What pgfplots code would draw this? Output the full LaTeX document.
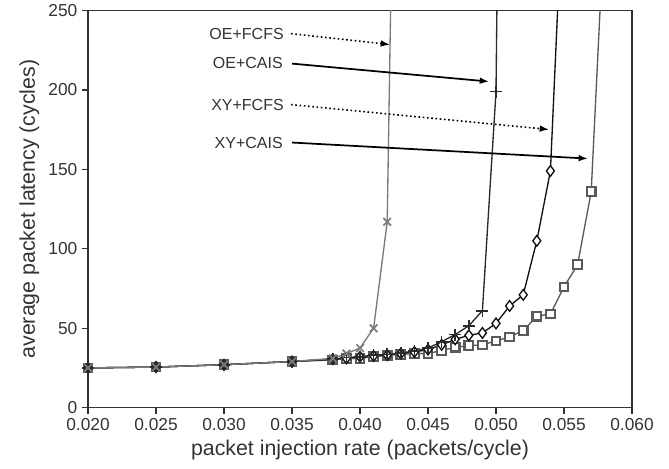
\documentclass[border=0pt]{standalone}
\usepackage{pgfplots}
\pgfplotsset{compat=1.18}
\usepackage{pgfplotstable}
\usepackage{fontspec}
\setmainfont{Liberation Sans}
\usetikzlibrary{arrows.meta}

\definecolor{axgray}{HTML}{333333}
\definecolor{oefcfs}{HTML}{7A7A7A}
\definecolor{oecais}{HTML}{2A2A2A}
\definecolor{xyfcfs}{HTML}{111111}
\definecolor{xycais}{HTML}{5A5A5A}

% OE + FCFS
\pgfplotstableread{
x y
0.020 25
0.025 25.5
0.030 27
0.035 29
0.038 31
0.039 34
0.040 37.5
0.041 50
0.042 117
0.043 650
}\oefcfsdata

% OE + CAIS
\pgfplotstableread{
x y
0.020 25
0.025 25.5
0.030 27
0.035 29
0.038 30.5
0.039 31.5
0.040 32
0.041 33
0.042 33.5
0.043 34.5
0.044 35.5
0.045 37.5
0.046 41.5
0.047 46
0.048 51.5
0.049 61
0.050 199
0.051 1000
}\oecaisdata

% XY + FCFS
\pgfplotstableread{
x y
0.020 25
0.025 25.5
0.030 27
0.035 29
0.038 30.5
0.039 31
0.040 32
0.041 32.5
0.042 33
0.043 34
0.044 35
0.045 36.5
0.046 39.5
0.047 43
0.048 45.5
0.049 47
0.050 53
0.051 64
0.052 71
0.053 105
0.054 149
0.055 340
}\xyfcfsdata

% XY + CAIS
\pgfplotstableread{
x y
0.020 25
0.025 25.5
0.030 27
0.035 29
0.038 30
0.039 31
0.040 31
0.041 32
0.042 33
0.043 33.5
0.044 34
0.045 34
0.046 36
0.047 38
0.048 39
0.049 39.5
0.050 42
0.051 44.5
0.052 48.5
0.053 57.5
0.054 59
0.055 76
0.056 90
0.057 136
0.058 312
}\xycaisdata

\begin{document}
\begin{tikzpicture}
\begin{axis}[
    scale only axis,
    width=408pt, height=297.75pt,
    xmin=0.020, xmax=0.060,
    ymin=0, ymax=250,
    xtick={0.020,0.025,0.030,0.035,0.040,0.045,0.050,0.055,0.060},
    ytick={0,50,100,150,200,250},
    scaled x ticks=false,
    xticklabel style={/pgf/number format/.cd, fixed, fixed zerofill, precision=3},
    /pgf/number format/assume math mode=true,
    ticklabel style={font=\fontsize{13}{15}\selectfont, text=axgray},
    label style={font=\fontsize{16}{19}\selectfont, text=axgray},
    xlabel={packet injection rate (packets/cycle)},
    ylabel={average packet latency (cycles)},
    axis line style={axgray, line width=1pt},
    tick style={axgray, line width=0.9pt},
    tick align=outside,
    tick pos=left,
    major tick length=4.5pt,
    every axis plot/.append style={line width=1pt},
]

\addplot[color=xycais, mark=square*, mark size=3.2pt,
    mark options={fill=white, line width=1.6pt}]
    table {\xycaisdata};
\addplot[color=xyfcfs, mark=diamond*, mark size=4pt,
    mark options={fill=white, line width=1pt}]
    table {\xyfcfsdata};
\addplot[color=oecais, mark=+, mark size=4.5pt,
    mark options={line width=1.3pt}]
    table {\oecaisdata};
\addplot[color=oefcfs, mark=x, mark size=4pt,
    mark options={line width=1.3pt}]
    table {\oefcfsdata};

% annotations
\tikzset{lab/.style={anchor=east, inner sep=0pt, text=axgray,
    font=\fontsize{12}{14}\selectfont},
  arr/.style={line width=1.3pt, -{Latex[length=7pt,width=5pt]}},
  darr/.style={line width=1.2pt, dash pattern=on 1.2pt off 2pt,
    -{Latex[length=7pt,width=5pt]}}}
\node[lab] at (axis cs:0.03441,235.5) {OE+FCFS};
\draw[darr] (axis cs:0.03493,235.5) -- (axis cs:0.04221,228.6);
\node[lab] at (axis cs:0.03434,216.8) {OE+CAIS};
\draw[arr] (axis cs:0.0350,216.6) -- (axis cs:0.04949,205.3);
\node[lab] at (axis cs:0.03441,190.8) {XY+FCFS};
\draw[darr] (axis cs:0.03493,190.8) -- (axis cs:0.05390,175.1);
\node[lab] at (axis cs:0.03434,166.9) {XY+CAIS};
\draw[arr] (axis cs:0.0350,166.9) -- (axis cs:0.05676,156.8);

\coordinate (bl) at (rel axis cs:-0.1618,-0.1537);
\coordinate (tr) at (rel axis cs:1.068,1.0227);
\end{axis}
\path (bl) rectangle (tr);
\end{tikzpicture}
\end{document}
